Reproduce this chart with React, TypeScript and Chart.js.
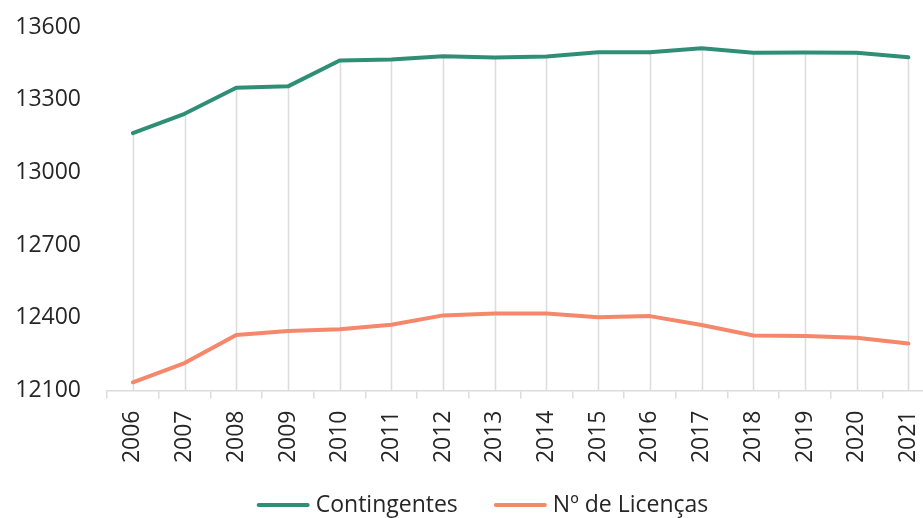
import React, { useEffect, useRef } from "react";
import { Chart, registerables } from "chart.js";

Chart.register(...registerables);

const years = ["2006","2007","2008","2009","2010","2011","2012","2013","2014","2015","2016","2017","2018","2019","2020","2021"];
const contingentes = [13162,13242,13349,13355,13462,13466,13479,13474,13478,13496,13496,13512,13494,13495,13494,13475];
const licencas = [12134,12213,12329,12346,12353,12371,12410,12418,12418,12402,12407,12370,12327,12325,12318,12294];
const yMin = 12100;
const yMax = 13600;
const yStep = 300;

const GREEN = "#2F8F76";
const ORANGE = "#F5876B";
const GRID = "#DCDCDC";
const TEXT = "#262626";
const FONT = "'Open Sans', sans-serif";
const FONT_SIZE = 23;

const dropLines = {
  id: "dropLines",
  beforeDatasetsDraw(chart: any) {
    const { ctx, chartArea, scales } = chart;
    const x = scales.x;
    const y = scales.y;
    ctx.save();
    ctx.strokeStyle = GRID;
    ctx.lineWidth = 1.5;
    for (let i = 0; i < years.length; i++) {
      const top = Math.max(...chart.data.datasets.map((d: any) => d.data[i]));
      const px = Math.round(x.getPixelForValue(i)) + 0.5;
      ctx.beginPath();
      ctx.moveTo(px, chartArea.bottom);
      ctx.lineTo(px, y.getPixelForValue(top));
      ctx.stroke();
    }
    ctx.restore();
  },
};

// Legend drawn below the axis, centred on the original figure's centre line
const customLegend = {
  id: "customLegend",
  afterDraw(chart: any) {
    const { ctx } = chart;
    const sample = 53;
    const gapText = 6;
    const gapItem = 36;
    const centerX = 482.5;
    const yMid = 505;
    ctx.save();
    ctx.font = `${FONT_SIZE}px ${FONT}`;
    const items = chart.data.datasets.map((d: any) => ({
      label: d.label,
      color: d.borderColor,
      w: ctx.measureText(d.label).width,
    }));
    let total = 0;
    items.forEach((it: any, i: number) => {
      total += sample + gapText + it.w + (i < items.length - 1 ? gapItem : 0);
    });
    let x = centerX - total / 2;
    ctx.textBaseline = "middle";
    ctx.textAlign = "left";
    items.forEach((it: any) => {
      ctx.strokeStyle = it.color;
      ctx.lineWidth = 4;
      ctx.lineCap = "round";
      ctx.beginPath();
      ctx.moveTo(x + 2, yMid);
      ctx.lineTo(x + sample - 2, yMid);
      ctx.stroke();
      x += sample + gapText;
      ctx.fillStyle = TEXT;
      ctx.fillText(it.label, x, yMid);
      x += it.w + gapItem;
    });
    ctx.restore();
  },
};

export default function App() {
  const ref = useRef<HTMLCanvasElement>(null);
  useEffect(() => {
    if (!ref.current) return;
    const chart = new Chart(ref.current, {
      type: "line",
      data: {
        labels: years,
        datasets: [
          {
            label: "Contingentes",
            data: contingentes,
            borderColor: GREEN,
            backgroundColor: GREEN,
            borderWidth: 4,
            pointRadius: 0,
            tension: 0,
            borderJoinStyle: "round",
            borderCapStyle: "round",
          },
          {
            label: "Nº de Licenças",
            data: licencas,
            borderColor: ORANGE,
            backgroundColor: ORANGE,
            borderWidth: 4,
            pointRadius: 0,
            tension: 0,
            borderJoinStyle: "round",
            borderCapStyle: "round",
          },
        ],
      },
      plugins: [dropLines, customLegend],
      options: {
        animation: false,
        responsive: true,
        maintainAspectRatio: false,
        layout: { padding: { left: 0, right: 0, top: 27, bottom: 55.5 } },
        plugins: {
          tooltip: { enabled: false },
          legend: { display: false },
        },
        scales: {
          x: {
            type: "category",
            offset: true,
            grid: {
              display: true,
              offset: true,
              drawOnChartArea: false,
              drawTicks: true,
              tickLength: 8,
              color: GRID,
              lineWidth: 1.5,
            },
            border: { display: true, color: GRID, width: 1.5 },
            ticks: {
              color: TEXT,
              font: { family: FONT, size: FONT_SIZE },
              minRotation: 90,
              maxRotation: 90,
              padding: 12,
              autoSkip: false,
            },
            afterFit: (scale: any) => {
              scale.height = 72;
            },
          },
          y: {
            min: yMin,
            max: yMax,
            grid: { display: false, drawTicks: false },
            border: { display: false },
            ticks: {
              stepSize: yStep,
              color: TEXT,
              font: { family: FONT, size: FONT_SIZE },
              padding: 26,
              callback: (v: any) => String(v),
            },
            afterFit: (scale: any) => {
              scale.width = 107;
              scale.paddingTop = 12;
              scale.paddingBottom = 12;
            },
          },
        },
      },
    });
    return () => chart.destroy();
  }, []);
  return (
    <div style={{ position: "fixed", left: 0, top: 0, width: 923, height: 518, overflow: "hidden", background: "#fff" }}>
      <div style={{ position: "relative", width: 948, height: 518 }}>
        <canvas ref={ref} />
      </div>
    </div>
  );
}
